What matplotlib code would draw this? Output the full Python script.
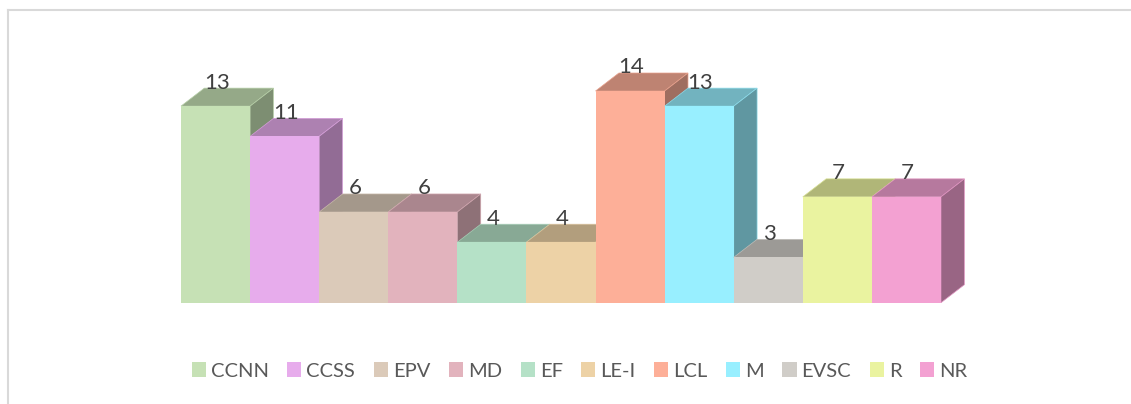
import matplotlib
matplotlib.use("Agg")
import matplotlib.pyplot as plt
from matplotlib.lines import Line2D
from matplotlib.patches import Patch, Polygon
from matplotlib.colors import to_rgb

W, H = 1131, 404

# Chart values
categories = ["CCNN", "CCSS", "EPV", "MD", "EF", "LE-I", "LCL", "M", "EVSC", "R", "NR"]
values = [13, 11, 6, 6, 4, 4, 14, 13, 3, 7, 7]
colors = ["#C6E1B5", "#E7ACEC", "#DBCAB9", "#E2B3BD", "#B5E1C7", "#EDD2A6",
          "#FDAF98", "#98EFFF", "#D0CDC8", "#EAF3A0", "#F3A1D2"]

# Fake 3D depth of the boxes, in data units
DEPTH_X = 0.338
DEPTH_Y = 1.19
TOP_SHADE = 0.75
SIDE_SHADE = 0.63


def shade(color, k):
    return tuple(c * k for c in to_rgb(color))


plt.rcParams["font.family"] = ["Lato", "DejaVu Sans"]
fig = plt.figure(figsize=(W / 100, H / 100), dpi=100)

# Axes box runs from the first bar's left edge to the last bar's right edge
ax = fig.add_axes([181 / W, 1 - 302.7 / H, 760 / W, 211.7 / H])
ax.set_xlim(-0.5, 10.5)
ax.set_ylim(0, 14)
ax.axis("off")

# Left to right, so every box covers the one before it where it should
for i, (v, c) in enumerate(zip(values, colors)):
    x0, x1 = i - 0.5, i + 0.5
    edge = shade(c, 0.92)
    ax.add_patch(Polygon([(x0, v), (x0 + DEPTH_X, v + DEPTH_Y), (x1 + DEPTH_X, v + DEPTH_Y), (x1, v)],
                         facecolor=shade(c, TOP_SHADE), edgecolor=edge, lw=0.5,
                         clip_on=False, zorder=2 + i))
    ax.add_patch(Polygon([(x1, 0), (x1 + DEPTH_X, DEPTH_Y), (x1 + DEPTH_X, v + DEPTH_Y), (x1, v)],
                         facecolor=shade(c, SIDE_SHADE), edgecolor=edge, lw=0.5,
                         clip_on=False, zorder=2 + i))
    ax.bar(i, v, width=1.0, color=c, linewidth=0, clip_on=False, zorder=2.5 + i)

# Data labels go on top of everything
for i, v in enumerate(values):
    ax.annotate(str(v), xy=(i, v), xytext=(0.8, 17), textcoords="offset points",
                ha="center", va="center", fontsize=16, color="#404040",
                annotation_clip=False, zorder=40)

handles = [Patch(facecolor=c, edgecolor="none", label=n) for n, c in zip(categories, colors)]
fig.legend(handles=handles, loc="center", bbox_to_anchor=(579.5 / W, 1 - 371 / H),
           ncol=len(categories), frameon=False, fontsize=14.5, labelcolor="#595959",
           handlelength=0.7, handleheight=0.7, handletextpad=0.25, columnspacing=0.92,
           borderpad=0, borderaxespad=0)

# Chart frame: only the left and top lines are inside the picture
frame = "#D9D9D9"
fig.add_artist(Line2D([8 / W, 8 / W], [0, 1 - 10 / H], color=frame, lw=1.5))
fig.add_artist(Line2D([8 / W, 1], [1 - 10 / H, 1 - 10 / H], color=frame, lw=1.5))

fig.savefig("out.png", dpi=100)
